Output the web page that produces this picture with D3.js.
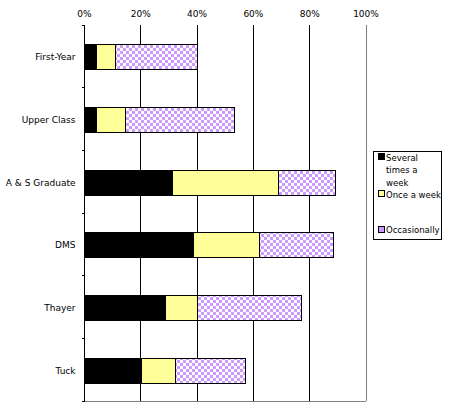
<!DOCTYPE html>
<html>
<head>
<meta charset="utf-8">
<script src="https://cdn.jsdelivr.net/npm/d3@7"></script>
<style>
  body { margin: 0; background: #fff; }
  text { font-family: "DejaVu Sans", sans-serif; font-size: 9px; fill: #000; }
</style>
</head>
<body>
<script>
var categories = ['First-Year', 'Upper Class', 'A & S Graduate', 'DMS', 'Thayer', 'Tuck'];
var seriesNames = ['Several times a week', 'Once a week', 'Occasionally'];
var several = [4.1, 4.3, 31.4, 38.8, 28.8, 20.3];
var once = [6.8, 10.2, 37.5, 23.3, 11.3, 12.0];
var occasionally = [29.2, 38.7, 20.1, 26.3, 37.1, 25.0];
var ticks = [0, 20, 40, 60, 80, 100];

var w = 454, h = 405;
var pl = 84.5, pr = 366, pt = 25, pb = 401;

var svg = d3.select('body').append('svg')
  .attr('width', w)
  .attr('height', h);

var defs = svg.append('defs');
var pat = defs.append('pattern')
  .attr('id', 'checker')
  .attr('patternUnits', 'userSpaceOnUse')
  .attr('width', 6)
  .attr('height', 6);
pat.append('rect').attr('width', 6).attr('height', 6).attr('fill', '#cc99ff');
pat.append('rect').attr('width', 3).attr('height', 3).attr('fill', '#fff');
pat.append('rect').attr('x', 3).attr('y', 3).attr('width', 3).attr('height', 3).attr('fill', '#fff');

var fills = ['#000', '#ffff99', 'url(#checker)'];

var x = d3.scaleLinear().domain([0, 100]).range([pl, pr]);
var y = d3.scaleBand().domain(categories).range([pt, pb])
  .paddingInner(0.6).paddingOuter(0.3);

// gridlines
svg.append('g').selectAll('line')
  .data(ticks.slice(1))
  .join('line')
  .attr('x1', d => x(d)).attr('x2', d => x(d))
  .attr('y1', pt).attr('y2', pb)
  .attr('stroke', d => d === 100 ? '#808080' : '#000')
  .attr('shape-rendering', 'crispEdges');

// bottom border
svg.append('line')
  .attr('x1', pl - 3).attr('x2', pr)
  .attr('y1', pb).attr('y2', pb)
  .attr('stroke', '#808080')
  .attr('shape-rendering', 'crispEdges');

// top axis labels
svg.append('g').selectAll('text')
  .data(ticks)
  .join('text')
  .attr('x', d => x(d))
  .attr('y', 17)
  .attr('text-anchor', 'middle')
  .text(d => d + '%');

// stacked bars
var rows = categories.map((c, i) => ({cat: c, vals: [several[i], once[i], occasionally[i]]}));
var g = svg.append('g').selectAll('g')
  .data(rows)
  .join('g');

g.selectAll('rect')
  .data(d => {
    var acc = 0;
    return d.vals.map((v, k) => {
      var s = acc; acc += v;
      return {cat: d.cat, x0: s, x1: acc, k: k};
    });
  })
  .join('rect')
  .attr('x', d => x(d.x0))
  .attr('y', d => y(d.cat) + 1)
  .attr('width', d => x(d.x1) - x(d.x0))
  .attr('height', y.bandwidth())
  .attr('fill', d => fills[d.k])
  .attr('stroke', '#000')
  .attr('stroke-width', 1)
  .attr('shape-rendering', 'crispEdges');

// left axis
var yAxis = d3.axisLeft(y).tickSize(0).tickPadding(9);
var ax = svg.append('g')
  .attr('transform', `translate(${pl},0)`)
  .call(yAxis);
ax.select('.domain').remove();
ax.selectAll('text')
  .style('font-family', '"DejaVu Sans", sans-serif')
  .style('font-size', '9px')
  .attr('dy', '0.45em');

svg.append('line')
  .attr('x1', pl).attr('x2', pl)
  .attr('y1', pt).attr('y2', pb)
  .attr('stroke', '#000')
  .attr('shape-rendering', 'crispEdges');

var step = y.step();
svg.append('g').selectAll('line')
  .data(d3.range(categories.length + 1))
  .join('line')
  .attr('x1', pl - 3).attr('x2', pl)
  .attr('y1', d => pt + d * step).attr('y2', d => pt + d * step)
  .attr('stroke', '#000')
  .attr('shape-rendering', 'crispEdges');

// legend
var lg = svg.append('g');
lg.append('rect')
  .attr('x', 373.5).attr('y', 151.5)
  .attr('width', 68).attr('height', 88)
  .attr('fill', '#fff').attr('stroke', '#000')
  .attr('shape-rendering', 'crispEdges');

var legendLines = [['Several', 'times a', 'week'], ['Once a week'], ['Occasionally']];
var legendY = [157, 194, 229.5];
seriesNames.forEach((name, i) => {
  lg.append('rect')
    .attr('x', 378.5).attr('y', legendY[i] - 3.5)
    .attr('width', 6).attr('height', 6)
    .attr('fill', fills[i] === 'url(#checker)' ? '#cc99ff' : fills[i])
    .attr('stroke', '#000')
    .attr('shape-rendering', 'crispEdges');
  var t = lg.append('text')
    .attr('x', 386)
    .attr('y', legendY[i] + 3.5)
    .style('font-size', '8.5px');
  legendLines[i].forEach((ln, j) => {
    t.append('tspan').attr('x', 386).attr('dy', j === 0 ? 0 : 12.5).text(ln);
  });
});
</script>
</body>
</html>
